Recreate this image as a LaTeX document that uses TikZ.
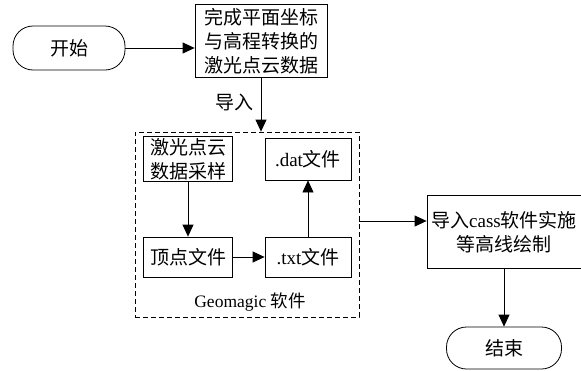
\documentclass[tikz,border=0pt]{standalone}
\usepackage{fontspec}
\setmainfont{Liberation Serif}
\newfontfamily\cjk{Noto Sans CJK SC}
\usetikzlibrary{arrows.meta,positioning}

\tikzset{
    flowbox/.style={draw,line width=0.8pt,align=center,inner sep=2pt},
    terminal/.style={draw,line width=0.8pt,rounded corners=20pt,inner sep=2pt},
    arrowline/.style={line width=0.8pt,-{Triangle[length=12pt,width=11pt]}}
}

\begin{document}
\begin{tikzpicture}[x=1pt,y=-1pt,font=\fontsize{19}{24}\selectfont]
        \useasboundingbox (0,0) rectangle (581,370);
        % Draw start and data box
        \node[terminal,minimum width=112pt,minimum height=44pt] (start) at (69,48) {\cjk 开始};
        \node[flowbox,minimum width=132pt,minimum height=73pt] (cloud) at (261,41) {\cjk 完成平面坐标\\\cjk 与高程转换的\\\cjk 激光点云数据};
        % Draw dashed software frame
        \node[draw,dash pattern=on 5pt off 3pt,line width=0.8pt,minimum width=224pt,minimum height=185pt] (geo) at (247,224.5) {};
        \node (geolabel) at (250,302) {\fontsize{17.5}{20}\selectfont Geomagic {\cjk 软件}};
        % Draw inner boxes
        \node[flowbox,minimum width=89pt,minimum height=42pt] (sample) at (188,159) {\cjk 激光点云\\\cjk 数据采样};
        \node[flowbox,minimum width=86pt,minimum height=42pt] (dat) at (308,159) {.dat{\cjk 文件}};
        \node[flowbox,minimum width=89pt,minimum height=40pt] (vertex) at (188,257) {\cjk 顶点文件};
        \node[flowbox,minimum width=86pt,minimum height=40pt] (txt) at (308,257) {.txt{\cjk 文件}};
        % Draw cass box and end
        \node[flowbox,minimum width=154pt,minimum height=73pt] (cass) at (504,232) {{\cjk 导入}cass{\cjk 软件实施}\\\cjk 等高线绘制};
        \node[terminal,minimum width=115pt,minimum height=42pt] (end) at (504,348) {\cjk 结束};
        % Draw arrows
        \draw[arrowline] (start.east) -- (start.east -| cloud.west);
        \draw[arrowline] (cloud.south) -- node[left=4pt,pos=0.45] (import) {\cjk 导入} (cloud.south |- geo.north);
        \draw[arrowline] (sample.south) -- (vertex.north);
        \draw[arrowline] (vertex.east) -- (txt.west);
        \draw[arrowline] (txt.north) -- (dat.south);
        \draw[arrowline] ([yshift=3.5pt]geo.east) -- ([yshift=3.5pt]geo.east -| cass.west);
        \draw[arrowline] (cass.south) -- (end.north);
    \end{tikzpicture}
\end{document}
